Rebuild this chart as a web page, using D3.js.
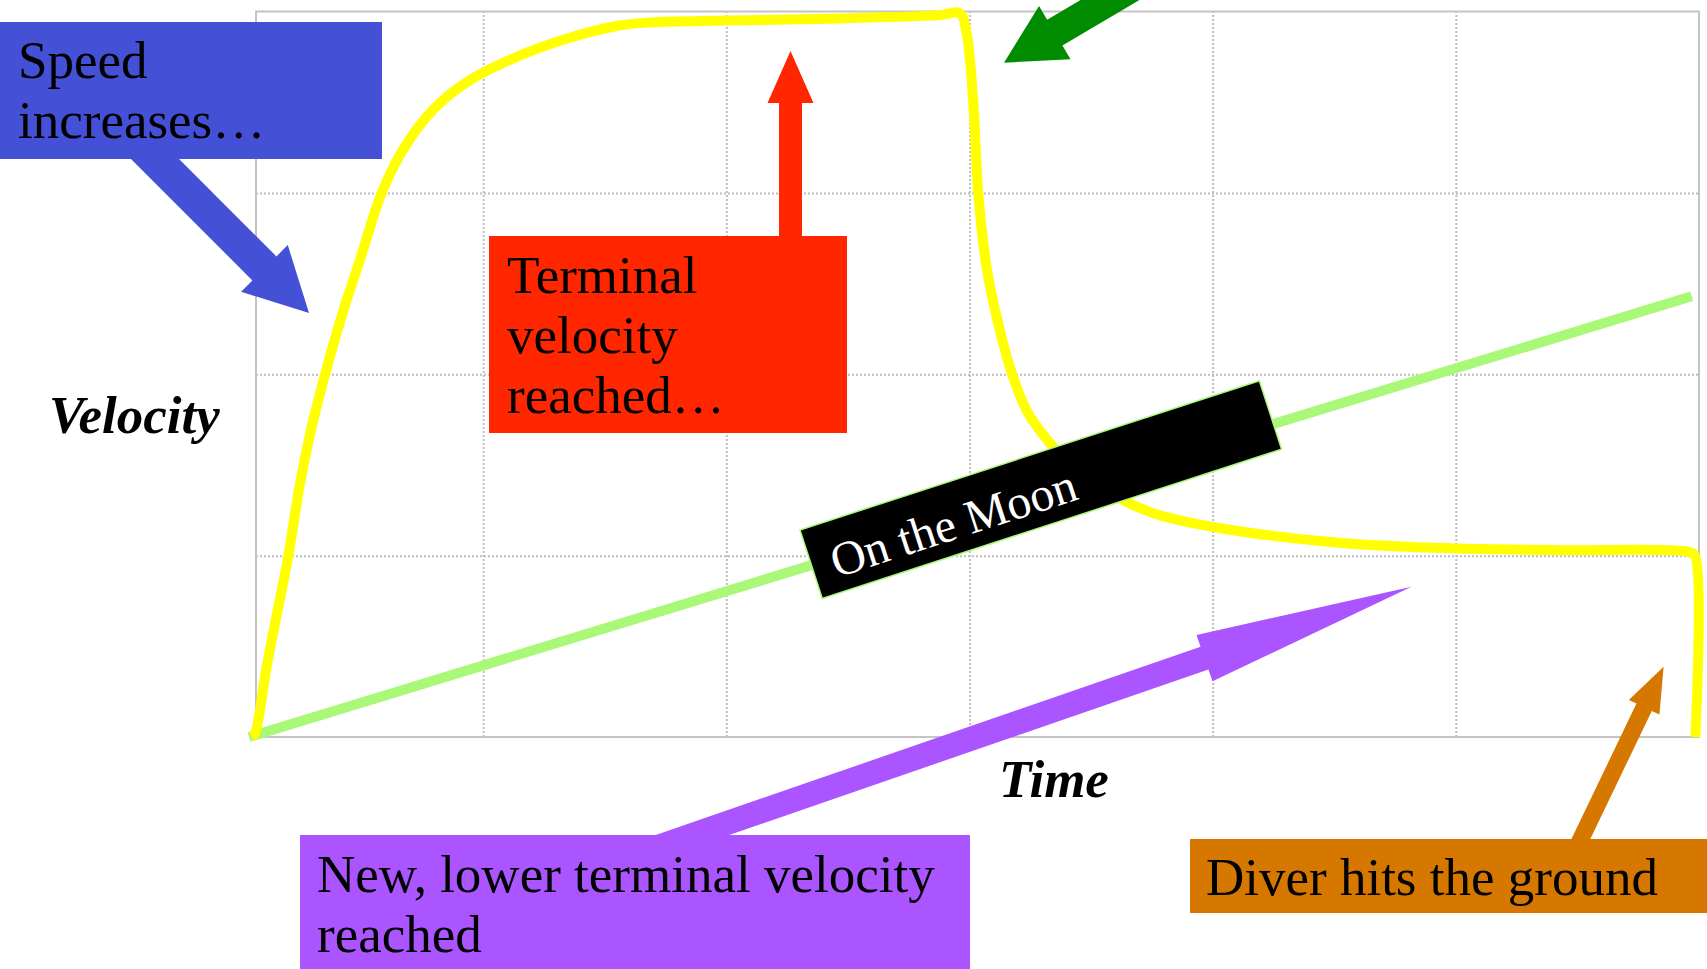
<!DOCTYPE html>
<html>
<head>
<meta charset="utf-8">
<script src="https://cdn.jsdelivr.net/npm/d3@7"></script>
<style>
  html, body { margin: 0; padding: 0; background: #ffffff; overflow: hidden; }
  svg { display: block; }
  text { font-family: "Liberation Serif", "Times New Roman", serif; }
</style>
</head>
<body>
<svg id="chart" width="1707" height="969"></svg>
<script>
// ---------------- DATA ----------------
// Skydiver on Earth (yellow): time vs velocity
const earthTime = [0.049, 0.062, 0.110, 0.164, 0.199, 0.247, 0.295, 0.350, 0.398, 0.432, 0.493, 0.583, 0.671, 0.795, 0.932,
                   1.138, 1.343, 1.549, 1.686, 1.998, 2.426, 2.878, 2.961,
                   2.988, 3.015, 3.036, 3.070, 3.111, 3.166, 3.235, 3.331, 3.462, 3.610, 3.766, 4.083, 4.531, 4.979, 5.432,
                   5.958, 5.983, 5.985];
const earthVel  = [0.00, 0.02, 0.39, 0.76, 1.00, 1.40, 1.71, 2.00, 2.23, 2.38, 2.63, 3.00, 3.24, 3.46, 3.61,
                   3.75, 3.85, 3.92, 3.94, 3.95, 3.96, 3.98, 3.99,
                   3.88, 3.51, 3.00, 2.59, 2.32, 2.04, 1.80, 1.62, 1.44, 1.32, 1.23, 1.14, 1.07, 1.04, 1.03,
                   1.02, 1.00, 0.00];
// On the Moon (light green): straight line
const moonTime = [0.037, 5.970];
const moonVel  = [0.00, 2.43];
// Grid ticks
const timeTicks = [1, 2, 3, 4, 5];
const velTicks  = [1, 2, 3];
// Labels
const xLabel = "Time";
const yLabel = "Velocity";
const moonLabel = "On the Moon";

// ---------------- LAYOUT ----------------
const svg = d3.select("#chart");
const frame = { left: 256, right: 1699, top: 11.5, bottom: 737 };
const x = d3.scaleLinear().domain([0, 6]).range([240, 1699]);
const y = d3.scaleLinear().domain([0, 4]).range([frame.bottom, frame.top]);
const serif = '"Liberation Serif", "Times New Roman", serif';

// Grid (through axes)
const gx = svg.append("g").attr("transform", `translate(0,${frame.bottom})`)
  .call(d3.axisBottom(x).tickValues(timeTicks).tickSize(-(frame.bottom - frame.top)).tickFormat(""));
const gy = svg.append("g").attr("transform", `translate(${frame.left},0)`)
  .call(d3.axisLeft(y).tickValues(velTicks).tickSize(-(frame.right - frame.left)).tickFormat(""));
[gx, gy].forEach(g => {
  g.select(".domain").remove();
  g.selectAll(".tick line").attr("stroke", "#bdbdbd").attr("stroke-width", 2).attr("stroke-dasharray", "2,2");
});
// Frame
svg.append("rect")
  .attr("x", frame.left).attr("y", frame.top)
  .attr("width", frame.right - frame.left).attr("height", frame.bottom - frame.top)
  .attr("fill", "none").attr("stroke", "#c4c4c4").attr("stroke-width", 2);

// Moon line
const moonData = moonTime.map((t, i) => [t, moonVel[i]]);
svg.append("path").datum(moonData)
  .attr("d", d3.line().x(d => x(d[0])).y(d => y(d[1])))
  .attr("fill", "none").attr("stroke", "#aaf878").attr("stroke-width", 10);

// Earth line
const earthData = earthTime.map((t, i) => [t, earthVel[i]]);
svg.append("path").datum(earthData)
  .attr("d", d3.line().x(d => x(d[0])).y(d => y(d[1])).curve(d3.curveCatmullRom.alpha(0.5)))
  .attr("fill", "none").attr("stroke", "#ffff00").attr("stroke-width", 10).attr("stroke-linejoin", "round");

// "On the Moon" label aligned with the moon line
const lab = svg.append("g").attr("transform", "translate(800,530) rotate(-18)");
lab.append("rect").attr("x", 0).attr("y", 0).attr("width", 483).attr("height", 72)
  .attr("fill", "#000").attr("stroke", "#aaf878").attr("stroke-width", 1.5);
lab.append("text").attr("x", 20).attr("y", 57).attr("fill", "#fff")
  .attr("font-size", 48).style("font-family", serif).text(moonLabel);

// Arrow helper
function arrow(tail, tip, sw, hw, hl, color) {
  const dx = tip[0] - tail[0], dy = tip[1] - tail[1];
  const L = Math.hypot(dx, dy), ux = dx / L, uy = dy / L, nx = -uy, ny = ux;
  const bx = tip[0] - ux * hl, by = tip[1] - uy * hl;
  const pts = [
    [tail[0] + nx * sw / 2, tail[1] + ny * sw / 2],
    [bx + nx * sw / 2, by + ny * sw / 2],
    [bx + nx * hw / 2, by + ny * hw / 2],
    tip,
    [bx - nx * hw / 2, by - ny * hw / 2],
    [bx - nx * sw / 2, by - ny * sw / 2],
    [tail[0] - nx * sw / 2, tail[1] - ny * sw / 2]
  ];
  svg.append("polygon").attr("points", pts.map(p => p.join(",")).join(" ")).attr("fill", color);
}

function box(x0, y0, x1, y1, color, lines, tx, baselines) {
  svg.append("rect").attr("x", x0).attr("y", y0).attr("width", x1 - x0).attr("height", y1 - y0).attr("fill", color);
  lines.forEach((s, i) => {
    svg.append("text").attr("x", tx).attr("y", baselines[i]).attr("fill", "#000")
      .attr("font-size", 53).style("font-family", serif).text(s);
  });
}

// Green arrow (top)
arrow([1176, -39], [1004, 62.7], 30, 62, 59, "#008c00");
// Blue
arrow([130, 134], [309, 313], 34, 66, 63, "#4450d6");
box(0, 22, 382, 159, "#4450d6", ["Speed", "increases…"], 18, [78, 138]);
// Red
arrow([790.5, 300], [790.5, 51], 23, 46, 52, "#ff2600");
box(489, 236, 847, 433, "#ff2600", ["Terminal", "velocity", "reached…"], 507, [293, 353, 413]);
// Purple
arrow([591, 870], [1411.5, 586.7], 24, 49, 219, "#aa55ff");
box(300, 835, 970, 975, "#aa55ff", ["New, lower terminal velocity", "reached"], 317, [892, 952]);
// Orange
arrow([1566, 870], [1663.6, 666.7], 17, 34, 45, "#d67800");
box(1190, 839, 1707, 913, "#d67800", ["Diver hits the ground"], 1206, [895]);

// Axis labels
svg.append("text").attr("x", 49).attr("y", 433).attr("font-size", 53)
  .attr("font-weight", "bold").attr("font-style", "italic").style("font-family", serif).text(yLabel);
svg.append("text").attr("x", 999).attr("y", 797).attr("font-size", 53)
  .attr("font-weight", "bold").attr("font-style", "italic").style("font-family", serif).text(xLabel);
</script>
</body>
</html>
